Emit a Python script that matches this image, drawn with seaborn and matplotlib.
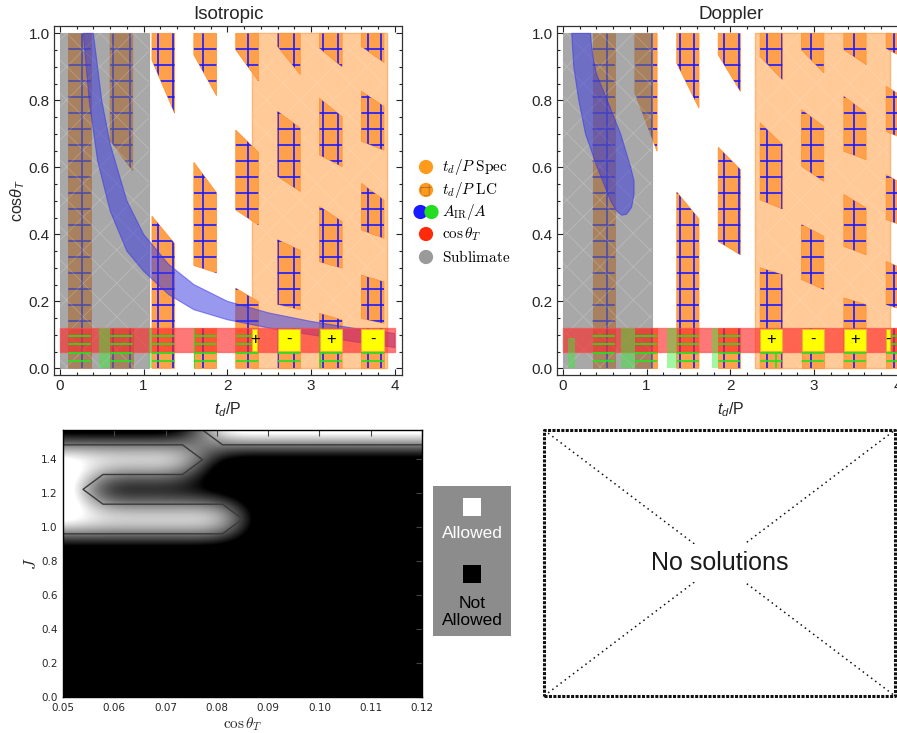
import numpy as np
import matplotlib
matplotlib.use("Agg")
import matplotlib.pyplot as plt
import seaborn as sns
import pandas as pd
from matplotlib.patches import Polygon, Rectangle, Circle, PathPatch
from matplotlib.path import Path
from matplotlib.ticker import MultipleLocator
from matplotlib.colors import LinearSegmentedColormap

# ---------------- data ----------------
x_ticks_top = [0, 1, 2, 3, 4]
y_ticks_top = [0.0, 0.2, 0.4, 0.6, 0.8, 1.0]

# td/P Spec pieces: (x0, x1, y top-left, y top-right, y bottom-right, y bottom-left)
iso_spec_pieces = [
    (0.10, 0.37, 1.00, 1.00, 0.00, 0.00),
    (0.60, 0.87, 1.00, 1.00, 0.59, 0.68),
    (0.60, 0.87, 0.12, 0.12, 0.00, 0.00),
    (1.10, 1.37, 1.00, 1.00, 0.762, 0.92),
    (1.10, 1.37, 0.454, 0.372, 0.00, 0.00),
    (1.60, 1.87, 1.00, 1.00, 0.814, 0.936),
    (1.60, 1.87, 0.615, 0.524, 0.285, 0.307),
    (1.60, 1.87, 0.12, 0.12, 0.00, 0.00),
    (2.10, 2.37, 1.00, 1.00, 0.858, 0.951),
    (2.10, 2.37, 0.711, 0.645, 0.428, 0.473),
    (2.10, 2.37, 0.239, 0.199, 0.00, 0.00),
    (2.60, 2.87, 1.00, 1.00, 0.877, 0.961),
    (2.60, 2.87, 0.767, 0.717, 0.528, 0.573),
    (2.60, 2.87, 0.384, 0.352, 0.175, 0.191),
    (2.60, 2.87, 0.12, 0.12, 0.00, 0.00),
    (3.10, 3.37, 1.00, 1.00, 0.90, 0.956),
    (3.10, 3.37, 0.806, 0.751, 0.602, 0.637),
    (3.10, 3.37, 0.483, 0.438, 0.299, 0.318),
    (3.10, 3.37, 0.164, 0.144, 0.00, 0.00),
    (3.60, 3.87, 1.00, 1.00, 0.913, 0.961),
    (3.60, 3.87, 0.827, 0.782, 0.651, 0.678),
    (3.60, 3.87, 0.552, 0.502, 0.388, 0.413),
    (3.60, 3.87, 0.278, 0.258, 0.134, 0.149),
    (3.60, 3.87, 0.12, 0.12, 0.00, 0.00),
]
dop_spec_pieces = [
    (0.355, 0.62, 1.00, 1.00, 0.00, 0.00),
    (0.86, 1.125, 1.00, 1.00, 0.648, 0.822),
    (0.86, 1.125, 0.12, 0.12, 0.00, 0.00),
    (1.36, 1.625, 1.00, 1.00, 0.777, 0.911),
    (1.36, 1.625, 0.526, 0.446, 0.00, 0.00),
    (1.855, 2.12, 1.00, 1.00, 0.827, 0.936),
    (1.855, 2.12, 0.66, 0.593, 0.339, 0.379),
    (1.855, 2.12, 0.12, 0.12, 0.00, 0.00),
    (2.355, 2.62, 1.00, 1.00, 0.862, 0.931),
    (2.355, 2.62, 0.733, 0.668, 0.476, 0.503),
    (2.355, 2.62, 0.30, 0.28, 0.00, 0.00),
    (2.85, 3.115, 1.00, 1.00, 0.882, 0.951),
    (2.85, 3.115, 0.772, 0.722, 0.558, 0.603),
    (2.85, 3.115, 0.429, 0.394, 0.235, 0.265),
    (2.85, 3.115, 0.12, 0.12, 0.00, 0.00),
    (3.355, 3.62, 1.00, 1.00, 0.907, 0.951),
    (3.355, 3.62, 0.812, 0.762, 0.623, 0.648),
    (3.355, 3.62, 0.519, 0.479, 0.339, 0.364),
    (3.355, 3.62, 0.21, 0.19, 0.00, 0.00),
    (3.86, 4.125, 1.00, 1.00, 0.92, 0.955),
    (3.86, 4.125, 0.842, 0.80, 0.68, 0.707),
    (3.86, 4.125, 0.578, 0.54, 0.42, 0.444),
    (3.86, 4.125, 0.319, 0.29, 0.17, 0.19),
    (3.86, 4.125, 0.12, 0.12, 0.00, 0.00),
]

# td/P LC grid (blue above cos band, green inside/below it)
lc_cos_blue = [0.141, 0.189, 0.237, 0.285, 0.332, 0.380, 0.428, 0.476, 0.523,
               0.571, 0.619, 0.667, 0.714, 0.762, 0.810, 0.858, 0.905, 0.953]
lc_cos_green = [0.023, 0.047, 0.072, 0.097]
iso_lc_x = [0.27, 0.64, 0.84, 1.17, 1.355, 1.71, 2.25, 2.61, 2.79, 3.14, 3.32, 3.68, 3.84]
dop_lc_x = [0.53, 1.06, 1.40, 1.57, 1.92, 2.10, 2.44, 2.615, 2.96, 3.48, 3.95]
iso_green_x = [1.60, 3.11]
dop_green_x = [2.54]

# sublimation limit and light orange spec block
iso_gray_x1 = 1.065
dop_gray_x1 = 1.06
iso_lorange = (2.30, 3.905)
dop_lorange = (2.30, 3.905)

# A_IR/A band (isotropic): upper and lower edges
iso_air_up_x = [0.40, 0.50, 0.60, 0.80, 1.00, 1.30, 1.60, 2.00, 2.50, 3.00, 3.50, 4.00]
iso_air_up_y = [1.00, 0.80, 0.67, 0.50, 0.40, 0.31, 0.25, 0.20, 0.165, 0.14, 0.12, 0.104]
iso_air_lo_x = [0.28, 0.35, 0.45, 0.60, 0.80, 1.00, 1.30, 1.60, 2.00, 2.50, 3.00, 3.50, 4.00]
iso_air_lo_y = [1.00, 0.80, 0.62, 0.47, 0.35, 0.29, 0.22, 0.175, 0.145, 0.12, 0.10, 0.08, 0.062]

# A_IR/A region (Doppler): closed outline
dop_air_x = [0.105, 0.13, 0.19, 0.27, 0.41, 0.57, 0.64, 0.705, 0.76, 0.82, 0.85, 0.85,
             0.81, 0.69, 0.53, 0.40, 0.36, 0.34, 0.33]
dop_air_y = [1.00, 0.90, 0.80, 0.70, 0.60, 0.50, 0.47, 0.457, 0.46, 0.48, 0.52, 0.56,
             0.60, 0.70, 0.80, 0.88, 0.93, 0.97, 1.00]

# cos theta_T band
cos_band = (0.05, 0.12)
iso_band_x1 = 4.0
dop_band_x1 = 4.2

# green A_IR/A pieces: (x0, x1, y1)
iso_green_rects = [(0.47, 0.60, 0.12), (1.065, 1.10, 0.12)]
dop_green_rects = [(0.063, 0.143, 0.09), (0.70, 0.86, 0.12), (1.24, 1.36, 0.12), (1.78, 1.855, 0.12)]

# allowed solutions (yellow): (x0, x1, sign)
iso_solutions = [(2.30, 2.355, "+"), (2.60, 2.87, "-"), (3.10, 3.37, "+"), (3.60, 3.87, "-")]
dop_solutions = [(2.355, 2.62, "+"), (2.85, 3.115, "-"), (3.355, 3.62, "+"), (3.86, 3.91, "-")]

# bottom-left map
cos_grid = [0.05, 0.0578, 0.0656, 0.0733, 0.0811, 0.0889, 0.0967, 0.1044, 0.1122, 0.12]
J_grid = [0.0, 0.1745, 0.3491, 0.5236, 0.6981, 0.8727, 1.0472, 1.2217, 1.3963, 1.5708]
allowed = [
    [0, 0, 0, 0, 0, 0, 0, 0, 0, 0],
    [0, 0, 0, 0, 0, 0, 0, 0, 0, 0],
    [0, 0, 0, 0, 0, 0, 0, 0, 0, 0],
    [0, 0, 0, 0, 0, 0, 0, 0, 0, 0],
    [0, 0, 0, 0, 0, 0, 0, 0, 0, 0],
    [0, 0, 0, 0, 0, 0, 0, 0, 0, 0],
    [1, 1, 1, 1, 1, 0, 0, 0, 0, 0],
    [1, 0, 0, 0, 0, 0, 0, 0, 0, 0],
    [1, 1, 1, 1, 0, 0, 0, 0, 0, 0],
    [0, 0, 0, 0, 1, 1, 1, 1, 1, 1],
]
bl_xticks = [0.05, 0.06, 0.07, 0.08, 0.09, 0.10, 0.11, 0.12]
bl_yticks = [0.0, 0.2, 0.4, 0.6, 0.8, 1.0, 1.2, 1.4]

legend_labels = [r"$t_d/P\ \mathrm{Spec}$", r"$t_d/P\ \mathrm{LC}$", r"$A_{\rm IR}/A$",
                 r"$\cos\theta_T$", r"$\mathrm{Sublimate}$"]

# ---------------- style ----------------
sns.set_style("white")
plt.rcParams['font.family'] = ['Liberation Sans', 'DejaVu Sans']
plt.rcParams['mathtext.fontset'] = 'custom'
plt.rcParams['mathtext.rm'] = 'Liberation Sans'
plt.rcParams['mathtext.it'] = 'Liberation Sans:italic'
plt.rcParams['mathtext.bf'] = 'Liberation Sans:bold'
plt.rcParams['hatch.linewidth'] = 0.6

W, H = 897, 733
fig = plt.figure(figsize=(W / 100, H / 100), dpi=100)
fig.patch.set_facecolor('white')


def px_axes(l, t, r, b):
    return fig.add_axes([l / W, 1 - b / H, (r - l) / W, (b - t) / H])


ORANGE = '#ffa04c'
BLUE_LINE = '#1a1aff'
GREEN_LINE = '#1ee61e'


def setup_top(ax, title, ylabel):
    ax.set_xlim(-0.07, 4.085)
    ax.set_ylim(-0.02, 1.022)
    ax.set_xticks(x_ticks_top)
    ax.set_xticklabels([str(v) for v in x_ticks_top])
    ax.set_yticks(y_ticks_top)
    ax.set_yticklabels([f"{v:.1f}" for v in y_ticks_top])
    ax.xaxis.set_minor_locator(MultipleLocator(0.2))
    ax.yaxis.set_minor_locator(MultipleLocator(0.05))
    ax.tick_params(which='both', direction='in', top=True, right=True, bottom=True,
                   left=True, color='#222222', width=0.8)
    ax.tick_params(which='major', length=4.5, labelsize=11, pad=3)
    ax.tick_params(which='minor', length=2.5)
    for s in ax.spines.values():
        s.set_color('#333333')
        s.set_linewidth(0.9)
    ax.set_title(title, fontsize=13.5, pad=5)
    ax.set_xlabel(r"$t_d$/P", fontsize=11.5, labelpad=5)
    if ylabel:
        ax.set_ylabel(r"cos$\theta_T$", fontsize=11.5, labelpad=1)


def draw_panel(ax, pieces, lc_x, green_x, gray_x1, lorange, air_poly, green_rects,
               solutions, band_x1):
    # light-orange spec block
    ax.add_patch(Rectangle((lorange[0], 0), lorange[1] - lorange[0], 1,
                           fc='#ffca98', ec='#ffb574', lw=1.0, zorder=1))
    ax.add_patch(Rectangle((lorange[0], 0), lorange[1] - lorange[0], 1,
                           fc='none', ec=(1, 1, 1, 0.14), lw=0, hatch='x', zorder=1.1))
    # spec pieces
    paths = []
    for x0, x1, a, b, c, d in pieces:
        v = [(x0, a), (x1, b), (x1, c), (x0, d)]
        ax.add_patch(Polygon(v, closed=True, fc=ORANGE, ec='#ff9436', lw=0.6, zorder=2))
        paths.append(Path(v + [v[0]], closed=True))
    clip = PathPatch(Path.make_compound_path(*paths), transform=ax.transData)
    # LC grid
    hl = ax.hlines(lc_cos_blue, -0.1, 4.3, colors=BLUE_LINE, lw=1.2, zorder=2.5)
    hl.set_clip_path(clip)
    vl = ax.vlines(lc_x, 0.0, 1.0, colors=BLUE_LINE, lw=1.2, zorder=2.5)
    vl.set_clip_path(clip)
    # sublimation
    ax.add_patch(Rectangle((0, 0), gray_x1, 1, fc='#6e6e6e', alpha=0.6, ec='#8a8a8a',
                           lw=0.8, zorder=3))
    ax.add_patch(Rectangle((0, 0), gray_x1, 1, fc='none', ec=(1, 1, 1, 0.2), lw=0,
                           hatch='x', zorder=3.1))
    # A_IR/A
    ax.add_patch(Polygon(air_poly, closed=True, fc='#3a3ae0', alpha=0.52, ec='#3030f0',
                         lw=0.8, zorder=4))
    # cos theta band
    ax.add_patch(Rectangle((0, cos_band[0]), band_x1, cos_band[1] - cos_band[0],
                           fc='#ff2626', alpha=0.62, ec='#ff4a4a', lw=1.0, zorder=5))
    for x0, x1, y1 in green_rects:
        ax.add_patch(Rectangle((x0, 0), x1 - x0, y1, fc='#33ee33', alpha=0.45, lw=0,
                               zorder=5.5))
    gl = ax.hlines(lc_cos_green, -0.1, 4.3, colors=GREEN_LINE, lw=1.2, zorder=6)
    gl.set_clip_path(clip)
    gv = ax.vlines(green_x, 0.0, 0.12, colors=GREEN_LINE, lw=1.2, zorder=6)
    gv.set_clip_path(clip)
    # solutions
    for x0, x1, sgn in solutions:
        ax.add_patch(Rectangle((x0, 0.052), x1 - x0, 0.066, fc='#ffff00', ec='#e9b040',
                               lw=0.8, zorder=7))
        ax.text((x0 + x1) / 2, 0.085, sgn, ha='center', va='center', fontsize=12,
                color='black', zorder=8)


# ---------------- top-left: Isotropic ----------------
ax1 = px_axes(54, 26, 402, 375)
iso_air_poly = list(zip(iso_air_up_x, iso_air_up_y)) + list(zip(iso_air_lo_x[::-1], iso_air_lo_y[::-1]))
draw_panel(ax1, iso_spec_pieces, iso_lc_x, iso_green_x, iso_gray_x1, iso_lorange,
           iso_air_poly, iso_green_rects, iso_solutions, iso_band_x1)
setup_top(ax1, "Isotropic", True)

# ---------------- top-right: Doppler ----------------
ax2 = px_axes(557, 26, 905, 375)
dop_air_poly = list(zip(dop_air_x, dop_air_y))
draw_panel(ax2, dop_spec_pieces, dop_lc_x, dop_green_x, dop_gray_x1, dop_lorange,
           dop_air_poly, dop_green_rects, dop_solutions, dop_band_x1)
setup_top(ax2, "Doppler", False)

# ---------------- bottom-left: allowed map ----------------
ax3 = px_axes(63, 430, 422, 697)
Z = np.array(allowed, dtype=float)
dx = cos_grid[1] - cos_grid[0]
dy = J_grid[1] - J_grid[0]
steep_gray = LinearSegmentedColormap.from_list(
    'steep_gray', [(0.0, 'black'), (0.22, 'black'), (0.78, 'white'), (1.0, 'white')])
ax3.imshow(Z, origin='lower', cmap=steep_gray, vmin=0, vmax=1, interpolation='bicubic',
           aspect='auto', extent=[cos_grid[0] - dx / 2, cos_grid[-1] + dx / 2,
                                  J_grid[0] - dy / 2, J_grid[-1] + dy / 2])
ax3.contour(cos_grid, J_grid, Z, levels=[0.5], colors='#3a3a3a', linewidths=1.0)
ax3.set_xlim(cos_grid[0], cos_grid[-1])
ax3.set_ylim(J_grid[0], J_grid[-1])
ax3.set_xticks(bl_xticks)
ax3.set_xticklabels([f"{v:.2f}" for v in bl_xticks])
ax3.set_yticks(bl_yticks)
ax3.set_yticklabels([f"{v:.1f}" for v in bl_yticks])
ax3.tick_params(which='major', direction='in', top=True, right=True, length=4,
                width=0.8, labelsize=7.5, pad=4, color='#444444')
for lab in ax3.get_xticklabels() + ax3.get_yticklabels():
    lab.set_fontfamily('DejaVu Sans')
for s in ax3.spines.values():
    s.set_color('black')
    s.set_linewidth(1.0)
ax3.set_xlabel(r"$\cos\theta_T$", fontsize=11, labelpad=2, math_fontfamily='cm')
ax3.set_ylabel(r"$J$", fontsize=12, labelpad=1, math_fontfamily='cm')

# ---------------- bottom-right: no solutions ----------------
ax4 = px_axes(544, 430, 895, 696)
ax4.set_xlim(0, 1)
ax4.set_ylim(0, 1)
ax4.axis('off')
ax4.plot([0, 1], [1, 0], color='#111111', lw=1.1, ls=(0, (1, 2.4)), clip_on=False)
ax4.plot([0, 1], [0, 1], color='#111111', lw=1.1, ls=(0, (1, 2.4)), clip_on=False)
ax4.plot([0, 1, 1, 0, 0], [0, 0, 1, 1, 0], color='#111111', lw=2.2,
         ls=(0, (1, 0.45)), clip_on=False, dash_capstyle='butt')
ax4.text(0.5, 0.5, "No solutions", ha='center', va='center', fontsize=18,
         color='#1a1a1a', bbox=dict(fc='white', ec='none', pad=5))

# ---------------- overlay: legends ----------------
ov = fig.add_axes([0, 0, 1, 1])
ov.set_xlim(0, W)
ov.set_ylim(H, 0)
ov.axis('off')

leg_df = pd.DataFrame({
    'x': [426, 426, 420.5, 431.5, 426, 426],
    'y': [167, 190, 212, 212, 234, 257],
    'kind': ['spec', 'lc', 'blue', 'green', 'red', 'gray'],
})
leg_pal = {'spec': '#ff9a1a', 'lc': '#ff9a1a', 'blue': '#1a1aff', 'green': '#22dd22',
           'red': '#ff2a0a', 'gray': '#9a9a9a'}
sns.scatterplot(data=leg_df, x='x', y='y', hue='kind', palette=leg_pal, s=105,
                edgecolor='none', legend=False, ax=ov, zorder=10)
ov.add_patch(Circle((426, 190), 6.2, fc='none', ec='#a86a32', lw=0, hatch='++', zorder=11))
for lab, yy in zip(legend_labels, [167, 190, 212, 234, 257]):
    ov.text(442, yy, lab, ha='left', va='center', fontsize=11, color='black',
            math_fontfamily='cm', zorder=11)

# bottom legend box
ov.add_patch(Rectangle((433, 486), 78, 150, fc='#8c8c8c', ec='none', zorder=10))
ov.add_patch(Rectangle((463, 498), 18, 18, fc='white', ec='none', zorder=11))
ov.text(472, 533, "Allowed", ha='center', va='center', fontsize=12.5, color='white', zorder=11)
ov.add_patch(Rectangle((463, 565), 18, 18, fc='black', ec='none', zorder=11))
ov.text(472, 612, "Not\nAllowed", ha='center', va='center', fontsize=12.5, color='black',
        linespacing=1.2, zorder=11)

fig.savefig("out.png", dpi=100)
